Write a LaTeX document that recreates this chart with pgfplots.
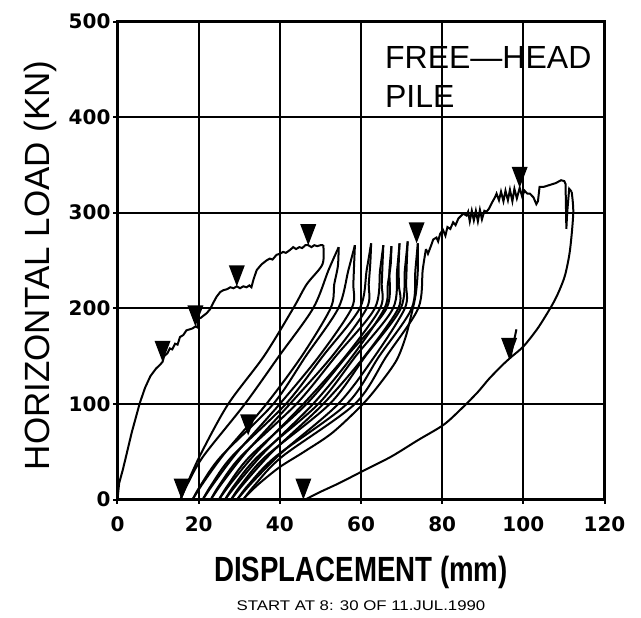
\documentclass[border=0pt]{standalone}
\usepackage{fontspec}
\setmainfont{Liberation Sans}
\newfontfamily\tickfont{DejaVu Sans}
\usepackage{graphicx}
\usepackage{pgfplots}
\pgfplotsset{compat=1.18}

% downward triangle with its tip on the point
\pgfdeclareplotmark{dtri}{%
  \pgfpathmoveto{\pgfqpoint{0pt}{0pt}}%
  \pgfpathlineto{\pgfqpoint{-4pt}{10.5pt}}%
  \pgfpathlineto{\pgfqpoint{4pt}{10.5pt}}%
  \pgfpathclose\pgfusepathqfill}

\begin{document}
\begin{tikzpicture}
\begin{axis}[
    name=ax,
    scale only axis,
    width=243.5pt, height=239pt,
    xmin=0, xmax=120, ymin=0, ymax=500,
    xtick={0,20,...,120}, ytick={0,100,...,500},
    xtick pos=bottom, ytick pos=left,
    grid=major,
    major grid style={black, line width=1pt},
    axis line style={line width=1.4pt},
    tick align=outside, major tick length=2pt,
    tick style={black, line width=1pt},
    ticklabel style={font=\tickfont\bfseries\fontsize{10}{10}\selectfont},
    /pgf/number format/assume math mode=true,
    xticklabel style={yshift=-3pt},
    yticklabel style={xshift=2pt},
    cycle list={{black, line width=1pt, mark=none}},
    crv/.style={black, line width=1pt, mark=none},
]
% virgin loading curve
\addplot[crv] coordinates {
 (0,0) (0.4,17) (1.3,31) (2.1,45) (3.5,70) (5.5,101) (6.8,117) (8.1,129)
 (9.5,137) (10.5,141) (11.1,144) (11.5,150) (12.3,153) (12.9,158) (13.5,157)
 (14.2,163) (14.8,162) (15.4,170) (16.2,172) (17,177) (17.8,178) (18.5,179)
 (19.2,181) (19.7,180) (19.9,189) (20.5,190) (21.1,192) (22,195) (22.8,199)
 (23.5,205) (24.4,212) (25.3,217) (26.1,219) (27,220) (27.8,222) (28.6,221)
 (29.4,223) (30.2,221) (31,223) (31.8,222) (32.5,224) (33,222) (33.5,230)
 (34.3,240) (35.5,246) (36.7,250) (37.5,252) (38.2,251) (39.2,256) (40,257)
 (40.8,259) (41.5,258) (42.5,261) (43.3,264) (44,262) (44.8,264) (45.5,263)
 (46.3,266) (47,266) (47.8,264) (48.5,266) (49.2,265) (50,266) (50.7,266)
};
% unloading / reloading cycles
\addplot[crv, smooth] coordinates {(50.7,266) (50.5,246) (46.6,225) (43.3,200) (36.1,150) (27.3,100) (20.8,50) (17.3,18) (15.5,0)};
\addplot[crv, smooth] coordinates {(15.5,0) (17.1,15) (21.1,45) (31.4,100) (39.8,150) (48.2,200) (52.0,240) (54.5,264)};
\addplot[crv, smooth] coordinates {(54.5,264) (54.3,244) (53.4,225) (52.5,200) (45.4,150) (36.7,100) (26.7,50) (21.2,18) (18.5,0)};
\addplot[crv, smooth] coordinates {(18.5,0) (20.5,15) (25.5,45) (38.4,100) (46.4,150) (54.4,200) (56.9,240) (58.5,266)};
\addplot[crv, smooth] coordinates {(58.5,266) (58.3,246) (58.1,225) (57.7,200) (49.7,150) (40.0,100) (29.6,50) (23.9,18) (21,0)};
\addplot[crv, smooth] coordinates {(21,0) (23.1,15) (28.2,45) (41.5,100) (50.6,150) (59.7,200) (61.4,240) (62.5,268)};
\addplot[crv, smooth] coordinates {(62.5,268) (62.3,248) (61.9,225) (61.4,200) (52.9,150) (42.5,100) (31.8,50) (25.9,18) (23,0)};
\addplot[crv, smooth] coordinates {(23,0) (25.1,15) (30.4,45) (44.1,100) (53.8,150) (63.4,200) (64.7,240) (65.5,266)};
\addplot[crv, smooth] coordinates {(65.5,266) (65.3,246) (65.1,225) (64.7,200) (56.2,150) (45.8,100) (34.4,50) (28.1,18) (25,0)};
\addplot[crv, smooth] coordinates {(25,0) (27.2,15) (32.6,45) (46.6,100) (56.5,150) (66.3,200) (67.0,240) (67.5,265)};
\addplot[crv, smooth] coordinates {(67.5,265) (67.3,245) (66.6,225) (65.8,200) (57.9,150) (48.2,100) (36.3,50) (29.8,18) (26.5,0)};
\addplot[crv, smooth] coordinates {(26.5,0) (28.8,15) (34.6,45) (49.5,100) (58.7,150) (67.9,200) (68.9,240) (69.5,268)};
\addplot[crv, smooth] coordinates {(69.5,268) (69.3,248) (69.3,225) (69.2,200) (60.9,150) (50.7,100) (38.2,50) (31.4,18) (28,0)};
\addplot[crv, smooth] coordinates {(28,0) (30.4,15) (36.5,45) (52.3,100) (61.1,150) (69.8,200) (70.8,240) (71.5,270)};
\addplot[crv, smooth] coordinates {(71.5,270) (71.3,250) (71.1,225) (70.8,200) (63.4,150) (54.4,100) (40.7,50) (33.2,18) (29.5,0)};
\addplot[crv, smooth] coordinates {(29.5,0) (32.2,15) (39.0,45) (56.5,100) (64.5,150) (72.5,200) (73.4,240) (74,268)};
\addplot[crv, smooth] coordinates {(74,268) (74,240) (73.5,215) (72.5,195) (71,170) (68.8,146) (65,123) (60.5,100) (53,70) (46,50) (40,34) (35,17) (32,5) (31,0)};
\addplot[crv, smooth] coordinates {(31,0) (33.8,15) (40.6,45) (58.5,100) (66.3,150) (74.1,200) (75.2,240) (76,262)};
% final loading to the maximum
\addplot[crv] coordinates {
 (76,262) (76.5,257) (77.3,266) (77.8,272) (78.6,274) (79,270) (79.5,278)
 (80.2,282) (80.8,276) (81.3,285) (82,283) (82.7,290) (83.3,287) (84,294)
 (85.2,299) (86,297) (86.4,301) (86.8,291) (87.3,302) (87.8,292) (88.3,302)
 (88.8,291) (89.3,303) (89.8,293) (90.4,302) (90.9,301) (91.5,304) (92.2,310)
 (93,316) (93.4,320) (94,313) (94.5,322) (95.1,312) (95.6,323) (96.2,313)
 (96.7,324) (97.3,312) (97.8,325) (98.4,315) (99.1,326) (99.7,317) (100.3,323)
 (101,320) (101.6,320) (102.5,316) (103.2,309) (103.6,312) (104,327) (105,327)
 (106.5,329) (108,331) (109.3,334) (110.1,333) (110.4,330) (110.6,283)
 (110.8,300) (111.3,325) (111.9,322)
};
% final unloading
\addplot[crv, smooth] coordinates {
 (111.9,322) (112.3,300) (111.5,261) (110.3,235) (108.8,218) (107.3,205)
 (105.2,190) (103.2,177) (100,160) (97,149) (94.7,140) (91.5,126) (88.7,112)
 (84.5,94) (80.3,78) (74,62) (67.5,45) (61,31) (54.8,17.5) (50,8) (46.3,0)
};
\addplot[crv] coordinates {(96.8,148) (97.5,162) (98.3,178)};
% markers
\addplot[only marks, mark=dtri, black] coordinates {
 (11.1,144) (19.2,181) (29.4,223) (47,266) (73.7,268) (99.1,326)
 (96.5,147) (15.8,0) (45.8,0) (32.2,67)
};
\node[anchor=base west, font=\fontsize{16}{18}\selectfont] at (axis cs:64.2,451) {FREE—HEAD};
\node[anchor=base west, font=\fontsize{16}{18}\selectfont] at (axis cs:64.2,410) {PILE};
\end{axis}
\node[anchor=base] at ([yshift=-41.1pt]ax.south)
  {\scalebox{0.79}[1]{\bfseries\fontsize{17.5}{18}\selectfont DISPLACEMENT (mm)}};
\node[anchor=base] at ([yshift=-55.25pt]ax.south)
  {\scalebox{1.2}[1]{\fontsize{7}{8}\selectfont START AT 8: 30 OF 11.JUL.1990}};
\node[rotate=90, anchor=base] at ([xshift=-33.75pt,yshift=-2.4pt]ax.west)
  {\fontsize{17.5}{18}\selectfont HORIZONTAL LOAD (KN)};
\pgfresetboundingbox
\path[use as bounding box] ([shift={(-58.75pt,-58.75pt)}]ax.south west)
  rectangle ([shift={(261.75pt,249.75pt)}]ax.south west);
\end{tikzpicture}
\end{document}
